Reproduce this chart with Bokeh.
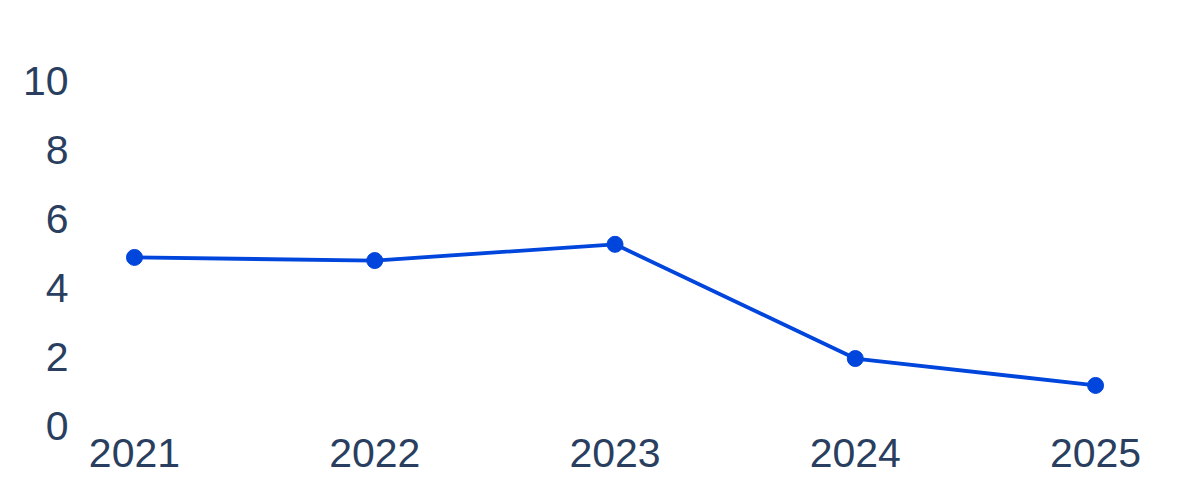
from bokeh.plotting import figure
from bokeh.embed import file_html
from bokeh.resources import INLINE
from bokeh.models import FixedTicker, Range1d

years = [2021, 2022, 2023, 2024, 2025]
values = [4.9, 4.81, 5.28, 1.97, 1.19]
x_ticks = [2021, 2022, 2023, 2024, 2025]
y_ticks = [0, 2, 4, 6, 8, 10]

FONT = "Liberation Sans"
TXT = "#2a3f5f"
LINE = "#0045dc"

p = figure(width=1192, height=492, output_backend="svg", toolbar_location=None,
           x_range=Range1d(2020.817, 2025.187), y_range=Range1d(-0.116, 11.478),
           min_border_left=90, min_border_right=52, min_border_top=30, min_border_bottom=62)

p.line(years, values, line_color=LINE, line_width=3.8)
p.scatter(years, values, size=16, fill_color=LINE, line_color=LINE)

p.outline_line_color = None
p.xgrid.visible = False
p.ygrid.visible = False
p.background_fill_color = "white"
p.border_fill_color = "white"

for ax in (p.xaxis[0], p.yaxis[0]):
    ax.axis_line_color = None
    ax.major_tick_line_color = None
    ax.minor_tick_line_color = None
    ax.major_tick_out = 0
    ax.major_tick_in = 0
    ax.minor_tick_out = 0
    ax.major_label_text_font = FONT
    ax.major_label_text_font_size = "41px"
    ax.major_label_text_color = TXT

p.xaxis[0].ticker = FixedTicker(ticks=x_ticks)
p.yaxis[0].ticker = FixedTicker(ticks=y_ticks)
p.xaxis[0].major_label_standoff = 8
p.yaxis[0].major_label_standoff = 22

open("out.html", "w").write(file_html(p, INLINE))
